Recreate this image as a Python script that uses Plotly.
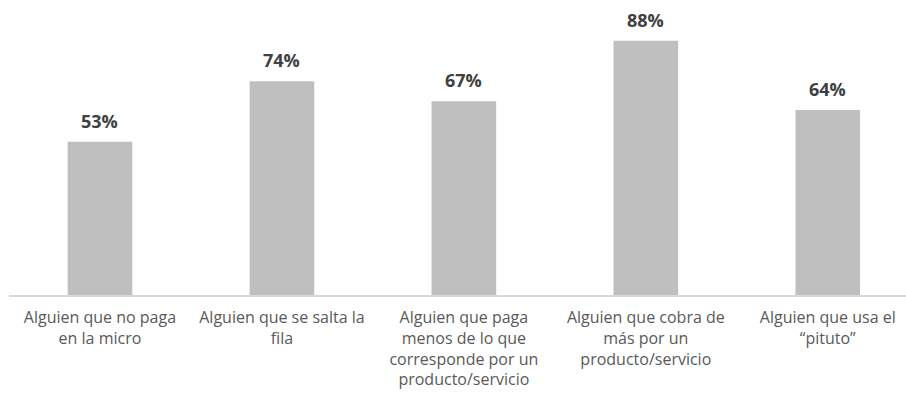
import plotly.graph_objects as go

categories = [
    "Alguien que no paga<br>en la micro",
    "Alguien que se salta la<br>fila",
    "Alguien que paga<br>menos de lo que<br>corresponde por un<br>producto/servicio",
    "Alguien que cobra de<br>más por un<br>producto/servicio",
    "Alguien que usa el<br>“pituto”",
]
values = [53, 74, 67, 88, 64]
labels = [f"{v}%" for v in values]

xs = list(range(len(categories)))

fig = go.Figure(go.Bar(
    x=xs,
    y=values,
    marker=dict(color="#BFBFBF", line=dict(width=0)),
    width=0.355,
    hoverinfo="skip",
))

for x, v, t in zip(xs, values, labels):
    fig.add_annotation(
        x=x, y=v, text=f"<b>{t}</b>", showarrow=False,
        yanchor="middle", yshift=21,
        font=dict(family="Open Sans", size=18, color="#404040"),
    )

fig.update_layout(
    width=906, height=401,
    margin=dict(l=9, r=0, t=6, b=106),
    paper_bgcolor="white", plot_bgcolor="white",
    showlegend=False,
    xaxis=dict(
        tickmode="array", tickvals=xs, ticktext=categories,
        range=[-0.5, 4.43],
        showline=True, linecolor="#D9D9D9", linewidth=1.5,
        showgrid=False, zeroline=False, ticks="",
        tickfont=dict(family="Open Sans", size=16, color="#595959"),
        tickangle=0, automargin=False, ticklabelstandoff=7,
    ),
    yaxis=dict(range=[0, 100], visible=False, automargin=False),
)

fig.write_html(
    "out.html",
    config={"displayModeBar": False},
    post_script="document.body.style.margin='0';document.body.style.overflow='hidden';",
)
